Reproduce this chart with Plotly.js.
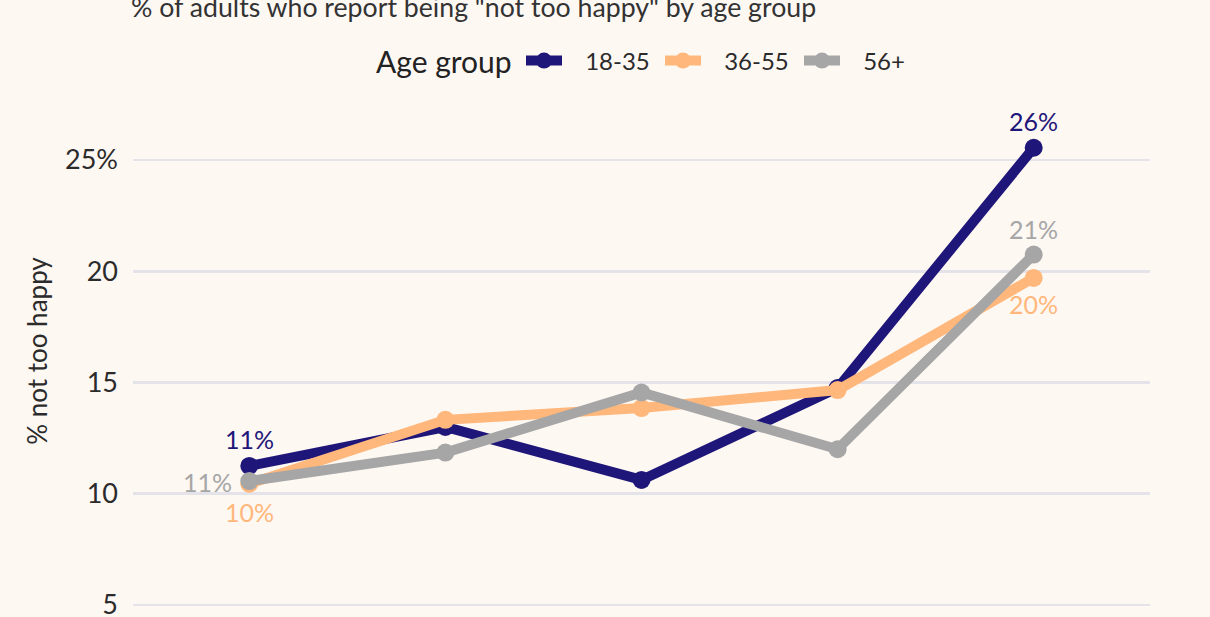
<!DOCTYPE html>
<html>
<head>
<meta charset="utf-8">
<script src="https://cdn.plot.ly/plotly-3.0.1.min.js"></script>
<style>
  html, body { margin: 0; padding: 0; background: #FEF8F3; overflow: hidden; }
  #chart { width: 1210px; height: 700px; }
</style>
</head>
<body>
<div id="chart"></div>
<script>
// periods on the x axis (their labels are outside the visible crop)
var periods = ['2000', '2006', '2012', '2018', '2022'];

// % "not too happy" per age group
var young = [11.25, 13.0, 10.62, 14.75, 25.55];
var middle = [10.45, 13.32, 13.85, 14.66, 19.7];
var older = [10.57, 11.85, 14.55, 12.0, 20.75];

var groupNames = ['18-35', '36-55', '56+'];
var groupColors = ['#1E1679', '#FFB77B', '#A6A6A6'];
// pixel nudges for the first/last value labels [dx, dy]
var labelShift = [
    [[0, 27], [0, 27]],
    [[0, -28], [0, -26]],
    [[-15, -1], [0, 26]]
];

var series = [young, middle, older];
var xs = periods.map(function (p, k) { return k; });
var data = [];
var notes = [];

series.forEach(function (vals, i) {
    data.push({
        x: xs,
        y: vals,
        // leading spaces push the legend text away from the symbol
        name: '\u2002\u00A0' + groupNames[i],
        type: 'scatter',
        mode: 'lines+markers',
        line: { color: groupColors[i], width: 10 },
        marker: { color: groupColors[i], size: 18 },
        hoverinfo: 'skip'
    });

    // first and last value labels
    [0, vals.length - 1].forEach(function (k, j) {
        var s = labelShift[i][j];
        notes.push({
            x: xs[k],
            y: vals[k],
            xref: 'x',
            yref: 'y',
            text: Math.round(vals[k]) + '%',
            showarrow: false,
            xanchor: s[0] < 0 ? 'right' : 'center',
            yanchor: 'middle',
            xshift: s[0],
            yshift: s[1],
            font: { family: 'Lato', size: 25, color: groupColors[i] }
        });
    });
});

// legend heading, drawn on its own so it lines up with the entries
notes.push({
    text: 'Age group',
    xref: 'paper', yref: 'paper',
    x: (514 - 133) / 1017, xanchor: 'right',
    y: (607 - 61) / 512, yanchor: 'middle',
    showarrow: false,
    font: { family: 'Lato', size: 30, color: '#222222' }
});

var layout = {
    width: 1210,
    height: 700,
    paper_bgcolor: '#FEF8F3',
    plot_bgcolor: '#FEF8F3',
    font: { family: 'Lato', color: '#2B2B2B' },
    margin: { l: 133, r: 60, t: 95, b: 93 },
    title: {
        text: '% of adults who report being "not too happy" by age group',
        font: { family: 'Lato', size: 26.7, color: '#333333' },
        xref: 'container', x: 131 / 1210, xanchor: 'left',
        yref: 'container', y: 1 - 8 / 700, yanchor: 'middle'
    },
    legend: {
        orientation: 'h',
        x: (521 - 133) / 1017, xanchor: 'left',
        y: (607 - 61) / 512, yanchor: 'middle',
        itemwidth: 36,
        entrywidth: 88,
        font: { family: 'Lato', size: 24, color: '#2B2B2B' },
        bgcolor: 'rgba(0,0,0,0)'
    },
    annotations: notes,
    xaxis: {
        range: [-0.593, 4.593],
        tickvals: xs,
        ticktext: periods,
        showticklabels: false,
        showgrid: false,
        zeroline: false,
        showline: false,
        ticks: ''
    },
    yaxis: {
        range: [4.91, 27.92],
        tickvals: [5, 10, 15, 20, 25],
        ticktext: ['5', '10', '15', '20', '25%'],
        tickfont: { family: 'Lato', size: 27, color: '#2B2B2B' },
        ticklabelstandoff: 14,
        gridcolor: '#E5E3EA',
        gridwidth: 2.7,
        zeroline: false,
        showline: false,
        title: {
            text: '% not too happy',
            font: { family: 'Lato', size: 26, color: '#2B2B2B' },
            standoff: 9
        }
    },
    showlegend: true
};

Plotly.newPlot(document.getElementById('chart'), data, layout, { displayModeBar: false, staticPlot: true });
</script>
</body>
</html>
